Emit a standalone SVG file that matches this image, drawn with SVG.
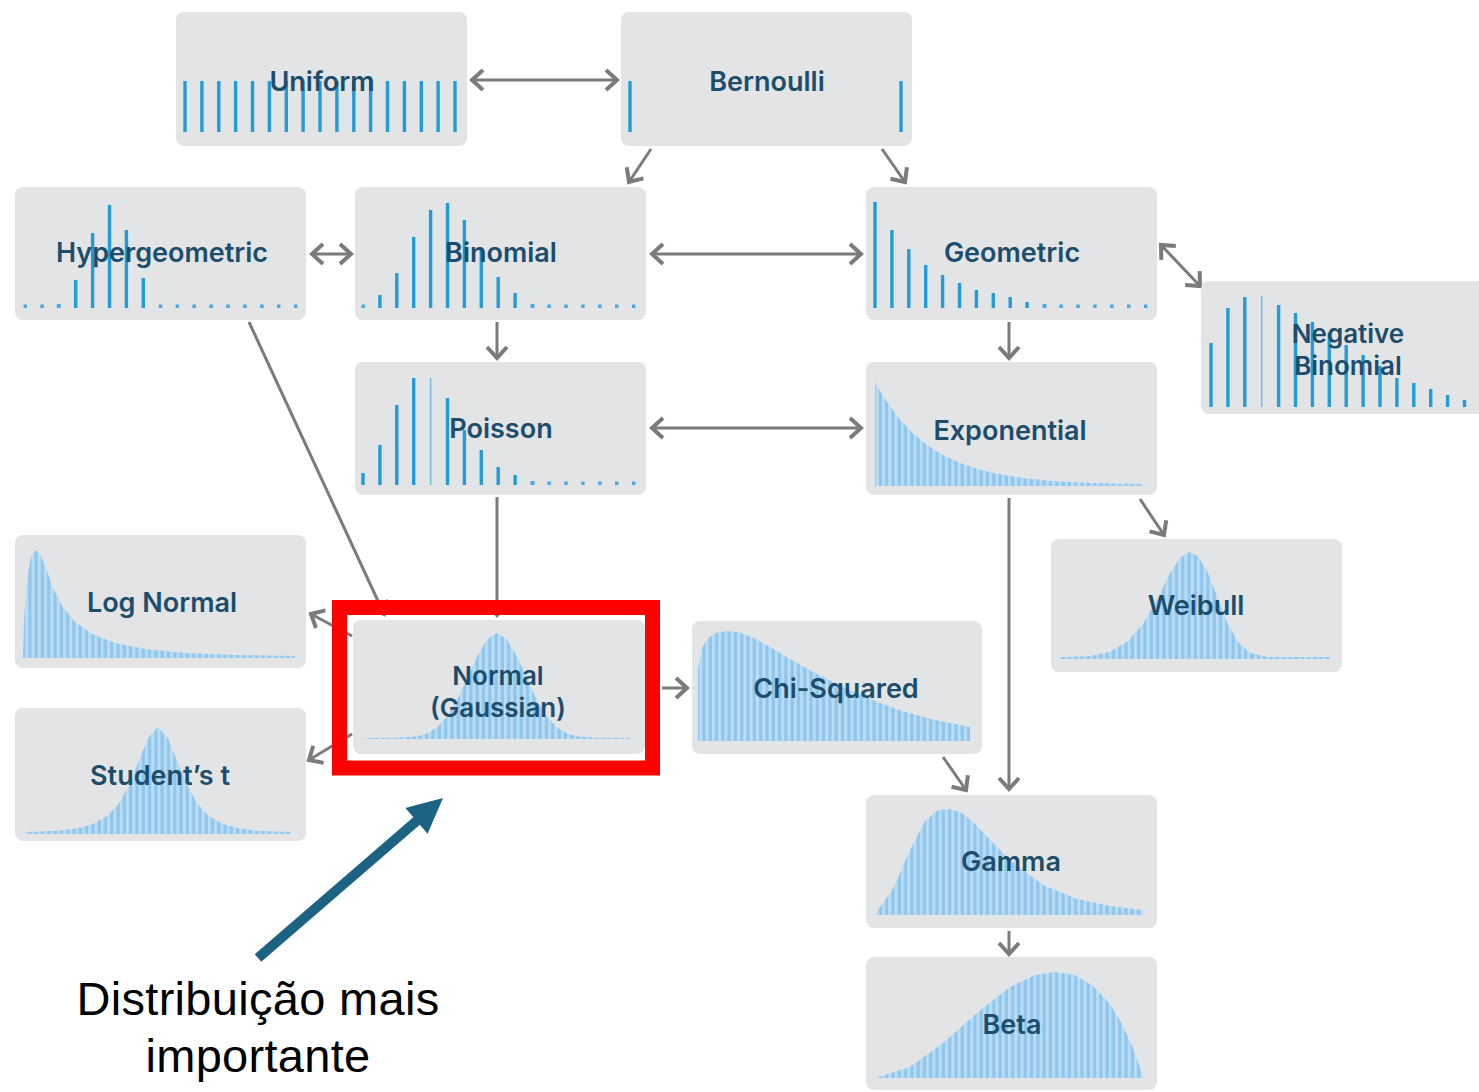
<svg xmlns="http://www.w3.org/2000/svg" width="1479" height="1092" viewBox="0 0 1479 1092">
  <defs>
    <style>
      .box { fill: #e3e4e6; }
      .bar { stroke: #229bd8; stroke-width: 3.4; }
      .thin { stroke: #72bbe5; stroke-width: 1.6; }
      .dot { fill: #4ba9de; }
      .area { fill: url(#stripes); }
      .lbl { font-family: Inter, "Liberation Sans", sans-serif; font-weight: 600; font-size: 27px; fill: #1d4d6c; text-anchor: middle; }
      .lbl2 { font-size: 26px; }
      .conn { stroke: #7b7b7b; stroke-width: 3; fill: none; }
      .one { marker-end: url(#chev); }
      .two { marker-start: url(#chev); marker-end: url(#chev); }
      .note { font-family: "Liberation Sans", Arial, sans-serif; font-size: 47px; letter-spacing: 0.3px; fill: #000; text-anchor: middle; }
    </style>
    <pattern id="stripes" patternUnits="userSpaceOnUse" width="6.3" height="8">
      <rect width="6.3" height="8" fill="#90c6ed"/>
      <rect x="0" width="3" height="8" fill="#b9ddf5"/>
    </pattern>
    <marker id="chev" viewBox="-15 -13 20 26" refX="0" refY="0" markerWidth="20" markerHeight="26" markerUnits="userSpaceOnUse" orient="auto-start-reverse">
      <path d="M-11,-10 L0,0 L-11,10" fill="none" stroke="#7b7b7b" stroke-width="4"/>
    </marker>
  </defs>

  <rect width="1479" height="1092" fill="#ffffff"/>

  <!-- connectors -->
  <g id="connectors">
    <line class="conn two" x1="472" y1="80" x2="617" y2="80"/>
    <line class="conn one" x1="651" y1="149" x2="629" y2="182"/>
    <line class="conn one" x1="882" y1="149" x2="905" y2="182"/>
    <line class="conn two" x1="312" y1="254" x2="351" y2="254"/>
    <line class="conn two" x1="652" y1="254" x2="861" y2="254"/>
    <line class="conn two" x1="1161" y1="245" x2="1200" y2="286"/>
    <line class="conn one" x1="497" y1="322" x2="497" y2="358"/>
    <line class="conn one" x1="1009" y1="322" x2="1009" y2="358"/>
    <line class="conn two" x1="652" y1="428" x2="861" y2="428"/>
    <line class="conn one" x1="249" y1="322" x2="384" y2="614"/>
    <line class="conn one" x1="497" y1="497" x2="497" y2="615"/>
    <line class="conn one" x1="352" y1="636" x2="311" y2="614"/>
    <line class="conn one" x1="352" y1="734" x2="309" y2="760"/>
    <line class="conn one" x1="662" y1="688" x2="687" y2="688"/>
    <line class="conn one" x1="1140" y1="499" x2="1164" y2="535"/>
    <line class="conn one" x1="1009" y1="498" x2="1009" y2="789"/>
    <line class="conn one" x1="943" y1="757" x2="966" y2="790"/>
    <line class="conn one" x1="1009" y1="931" x2="1009" y2="954"/>
  </g>

  <!-- Uniform -->
  <g id="uniform">
    <rect class="box" x="176" y="12" width="291" height="134" rx="8"/>
    <g class="bar">
      <line x1="185" y1="81" x2="185" y2="132"/><line x1="201.9" y1="81" x2="201.9" y2="132"/>
      <line x1="218.8" y1="81" x2="218.8" y2="132"/><line x1="235.6" y1="81" x2="235.6" y2="132"/>
      <line x1="252.5" y1="81" x2="252.5" y2="132"/><line x1="269.4" y1="81" x2="269.4" y2="132"/>
      <line x1="286.3" y1="81" x2="286.3" y2="132"/><line x1="303.1" y1="81" x2="303.1" y2="132"/>
      <line x1="320" y1="81" x2="320" y2="132"/><line x1="336.9" y1="81" x2="336.9" y2="132"/>
      <line x1="353.8" y1="81" x2="353.8" y2="132"/><line x1="370.6" y1="81" x2="370.6" y2="132"/>
      <line x1="387.5" y1="81" x2="387.5" y2="132"/><line x1="404.4" y1="81" x2="404.4" y2="132"/>
      <line x1="421.3" y1="81" x2="421.3" y2="132"/><line x1="438.1" y1="81" x2="438.1" y2="132"/>
      <line x1="455" y1="81" x2="455" y2="132"/>
    </g>
    <text class="lbl" x="322" y="91">Uniform</text>
  </g>

  <!-- Bernoulli -->
  <g id="bernoulli">
    <rect class="box" x="621" y="12" width="291" height="134" rx="8"/>
    <g class="bar">
      <line x1="630" y1="81" x2="630" y2="132"/>
      <line x1="901" y1="81" x2="901" y2="132"/>
    </g>
    <text class="lbl" x="767" y="91">Bernoulli</text>
  </g>

  <!-- Hypergeometric -->
  <g id="hypergeometric">
    <rect class="box" x="15" y="187" width="291" height="133" rx="8"/>
    <g class="dot">
      <rect x="23.5" y="304.5" width="3.5" height="3.5"/><rect x="40.4" y="304.5" width="3.5" height="3.5"/>
      <rect x="56.8" y="304" width="4" height="4"/>
      <rect x="158.7" y="304.5" width="3.5" height="3.5"/><rect x="175.6" y="304.5" width="3.5" height="3.5"/>
      <rect x="192.5" y="304.5" width="3.5" height="3.5"/><rect x="209.4" y="304.5" width="3.5" height="3.5"/>
      <rect x="226.3" y="304.5" width="3.5" height="3.5"/><rect x="243.2" y="304.5" width="3.5" height="3.5"/>
      <rect x="260.1" y="304.5" width="3.5" height="3.5"/><rect x="277" y="304.5" width="3.5" height="3.5"/>
      <rect x="293.9" y="304.5" width="3.5" height="3.5"/>
    </g>
    <g class="bar">
      <line x1="75.7" y1="280" x2="75.7" y2="308"/>
      <line x1="92.6" y1="233" x2="92.6" y2="308"/>
      <line x1="109.5" y1="205" x2="109.5" y2="308"/>
      <line x1="126.4" y1="230" x2="126.4" y2="308"/>
      <line x1="143.3" y1="278" x2="143.3" y2="308"/>
    </g>
    <text class="lbl" x="162" y="262">Hypergeometric</text>
  </g>

  <!-- Binomial -->
  <g id="binomial">
    <rect class="box" x="355" y="187" width="291" height="133" rx="8"/>
    <g class="dot">
      <rect x="361.5" y="304.5" width="3.5" height="3.5"/>
      <rect x="530.5" y="304" width="4" height="4"/><rect x="547.4" y="304.5" width="3.5" height="3.5"/>
      <rect x="564.3" y="304.5" width="3.5" height="3.5"/><rect x="581.2" y="304.5" width="3.5" height="3.5"/>
      <rect x="598.1" y="304.5" width="3.5" height="3.5"/><rect x="615" y="304.5" width="3.5" height="3.5"/>
      <rect x="631.9" y="304.5" width="3.5" height="3.5"/>
    </g>
    <g class="bar">
      <line x1="379.9" y1="295" x2="379.9" y2="308"/>
      <line x1="396.8" y1="273" x2="396.8" y2="308"/>
      <line x1="413.7" y1="237" x2="413.7" y2="308"/>
      <line x1="430.6" y1="210" x2="430.6" y2="308"/>
      <line x1="447.5" y1="203" x2="447.5" y2="308"/>
      <line x1="464.4" y1="220" x2="464.4" y2="308"/>
      <line x1="481.3" y1="250" x2="481.3" y2="308"/>
      <line x1="498.2" y1="277" x2="498.2" y2="308"/>
      <line x1="515.1" y1="293" x2="515.1" y2="308"/>
    </g>
    <text class="lbl" x="501" y="262">Binomial</text>
  </g>

  <!-- Geometric -->
  <g id="geometric">
    <rect class="box" x="866" y="187" width="291" height="133" rx="8"/>
    <g class="bar">
      <line x1="875" y1="202" x2="875" y2="308"/>
      <line x1="891.9" y1="230" x2="891.9" y2="308"/>
      <line x1="908.8" y1="249" x2="908.8" y2="308"/>
      <line x1="925.7" y1="265" x2="925.7" y2="308"/>
      <line x1="942.6" y1="275" x2="942.6" y2="308"/>
      <line x1="959.5" y1="283" x2="959.5" y2="308"/>
      <line x1="976.4" y1="290" x2="976.4" y2="308"/>
      <line x1="993.3" y1="293" x2="993.3" y2="308"/>
      <line x1="1010.2" y1="297" x2="1010.2" y2="308"/>
      <line x1="1027.1" y1="302" x2="1027.1" y2="308"/>
    </g>
    <g class="dot">
      <rect x="1042.5" y="304" width="4" height="4"/><rect x="1059.4" y="304.5" width="3.5" height="3.5"/>
      <rect x="1076.3" y="304.5" width="3.5" height="3.5"/><rect x="1093.2" y="304.5" width="3.5" height="3.5"/>
      <rect x="1110.1" y="304.5" width="3.5" height="3.5"/><rect x="1127" y="304.5" width="3.5" height="3.5"/>
      <rect x="1143.9" y="304.5" width="3.5" height="3.5"/>
    </g>
    <text class="lbl" x="1012" y="262">Geometric</text>
  </g>

  <!-- Negative Binomial -->
  <g id="negative-binomial">
    <rect class="box" x="1201" y="281" width="300" height="133" rx="8"/>
    <g class="bar">
      <line x1="1211" y1="343" x2="1211" y2="407"/>
      <line x1="1227.9" y1="308" x2="1227.9" y2="407"/>
      <line x1="1244.8" y1="297" x2="1244.8" y2="407"/>
      <line x1="1278.6" y1="305" x2="1278.6" y2="407"/>
      <line x1="1295.5" y1="313" x2="1295.5" y2="407"/>
      <line x1="1312.4" y1="322" x2="1312.4" y2="407"/>
      <line x1="1329.3" y1="333" x2="1329.3" y2="407"/>
      <line x1="1346.2" y1="345" x2="1346.2" y2="407"/>
      <line x1="1363.1" y1="355" x2="1363.1" y2="407"/>
      <line x1="1380" y1="366" x2="1380" y2="407"/>
      <line x1="1396.9" y1="378" x2="1396.9" y2="407"/>
      <line x1="1413.8" y1="383" x2="1413.8" y2="407"/>
      <line x1="1430.7" y1="389" x2="1430.7" y2="407"/>
      <line x1="1447.6" y1="395" x2="1447.6" y2="407"/>
      <line x1="1464.5" y1="400" x2="1464.5" y2="407"/>
    </g>
    <line class="thin" x1="1261.7" y1="296" x2="1261.7" y2="407"/>
    <text class="lbl lbl2" x="1348" y="343">Negative</text>
    <text class="lbl lbl2" x="1348" y="375">Binomial</text>
  </g>

  <!-- Poisson -->
  <g id="poisson">
    <rect class="box" x="355" y="362" width="291" height="133" rx="8"/>
    <g class="bar">
      <line x1="363" y1="473" x2="363" y2="485"/>
      <line x1="379.9" y1="445" x2="379.9" y2="485"/>
      <line x1="396.8" y1="405" x2="396.8" y2="485"/>
      <line x1="413.7" y1="378" x2="413.7" y2="485"/>
      <line x1="447.5" y1="398" x2="447.5" y2="485"/>
      <line x1="464.4" y1="430" x2="464.4" y2="485"/>
      <line x1="481.3" y1="450" x2="481.3" y2="485"/>
      <line x1="498.2" y1="467" x2="498.2" y2="485"/>
      <line x1="515.1" y1="475" x2="515.1" y2="485"/>
    </g>
    <line class="thin" x1="430.6" y1="378" x2="430.6" y2="485"/>
    <g class="dot">
      <rect x="530.5" y="481" width="4" height="4"/><rect x="547.4" y="481.5" width="3.5" height="3.5"/>
      <rect x="564.3" y="481.5" width="3.5" height="3.5"/><rect x="581.2" y="481.5" width="3.5" height="3.5"/>
      <rect x="598.1" y="481.5" width="3.5" height="3.5"/><rect x="615" y="481.5" width="3.5" height="3.5"/>
      <rect x="631.9" y="481.5" width="3.5" height="3.5"/>
    </g>
    <text class="lbl" x="501" y="438">Poisson</text>
  </g>

  <!-- Exponential -->
  <g id="exponential">
    <rect class="box" x="866" y="362" width="291" height="133" rx="8"/>
    <path class="area" d="M875,486 L875,382 L880,391 L890,406.6 L900,419.6 L912,432.5 L925,443.5 L940,453.4 L960,463 L980,469.7 L1000,474.3 L1025,478.3 L1050,480.7 L1080,482.5 L1110,483.6 L1143,484 L1143,486 Z"/>
    <text class="lbl" x="1010" y="440">Exponential</text>
  </g>

  <!-- Log Normal -->
  <g id="log-normal">
    <rect class="box" x="15" y="535" width="291" height="133" rx="8"/>
    <path class="area" d="M23,658 L24,620 L27,580 L31,557 L35,550 L40,554 L46,568 L53,588 L62,606 L75,622 L92,634 L115,643 L145,649 L185,653 L235,655 L295,656 L295,658 Z"/>
    <text class="lbl" x="162" y="612">Log Normal</text>
  </g>

  <!-- Normal (Gaussian) -->
  <g id="normal">
    <rect class="box" x="353" y="620" width="292" height="134" rx="8"/>
    <path class="area" d="M365,739 L365,738 L397,737.7 L417,736.2 L427,733.4 L437,727.4 L447,716.7 L457,700.2 L467,678.9 L477,656.6 L487,639.5 L497,633 L507,639.5 L517,656.6 L527,678.9 L537,700.2 L547,716.7 L557,727.4 L567,733.4 L577,736.2 L597,737.7 L630,738 L630,739 Z"/>
    <text class="lbl lbl2" x="498" y="685">Normal</text>
    <text class="lbl lbl2" x="498" y="717">(Gaussian)</text>
  </g>

  <!-- Student's t -->
  <g id="students-t">
    <rect class="box" x="15" y="708" width="291" height="133" rx="8"/>
    <path class="area" d="M25,834 L25,832 L58,830.7 L78,828.2 L93,824.1 L108,815.3 L118,804.4 L128,787.2 L138,763 L148,738.3 L158,727 L168,738.3 L178,763 L188,787.2 L198,804.4 L208,815.3 L223,824.1 L238,828.2 L258,830.7 L291,832 L291,834 Z"/>
    <text class="lbl" x="160" y="785">Student’s t</text>
  </g>

  <!-- Chi-Squared -->
  <g id="chi-squared">
    <rect class="box" x="692" y="621" width="290" height="133" rx="8"/>
    <path class="area" d="M698,741 L698,668 L702,648 L708,638 L716,633 L726,631 L738,632 L752,637 L770,647 L790,659 L815,673 L845,688 L875,701 L905,712 L935,720 L970,727 L970,741 Z"/>
    <text class="lbl" x="836" y="698">Chi-Squared</text>
  </g>

  <!-- Weibull -->
  <g id="weibull">
    <rect class="box" x="1051" y="539" width="291" height="133" rx="8"/>
    <path class="area" d="M1060,659 L1060,657 L1090,656 L1110,652 L1128,641 L1143,624 L1157,600 L1169,575 L1180,558 L1189,552 L1198,556 L1207,571 L1217,596 L1227,622 L1238,642 L1250,653 L1268,657 L1330,657 L1330,659 Z"/>
    <text class="lbl" x="1196" y="615">Weibull</text>
  </g>

  <!-- Gamma -->
  <g id="gamma">
    <rect class="box" x="866" y="795" width="291" height="133" rx="8"/>
    <path class="area" d="M875,915 L878,910 L893,889 L910,850 L925,821 L938,810 L950,809 L962,813 L975,824 L990,840 L1010,860 L1043,885 L1077,899 L1110,906 L1143,910 L1143,915 Z"/>
    <text class="lbl" x="1011" y="871">Gamma</text>
  </g>

  <!-- Beta -->
  <g id="beta">
    <rect class="box" x="866" y="957" width="291" height="133" rx="8"/>
    <path class="area" d="M875,1078 L878,1077 L910,1067 L943,1043 L977,1013 L1010,987 L1035,975 L1055,972 L1075,975 L1093,986 L1110,1004 L1122,1024 L1133,1048 L1143,1076 L1143,1078 Z"/>
    <text class="lbl" x="1012" y="1034">Beta</text>
  </g>

  <!-- highlight frame -->
  <rect id="highlight" x="339.5" y="607.5" width="313" height="160.5" fill="none" stroke="#ff0000" stroke-width="15"/>

  <!-- annotation -->
  <g id="annotation">
    <line x1="258" y1="958" x2="420" y2="818" stroke="#1c6283" stroke-width="10"/>
    <polygon points="443,798 405.4,808 427.6,833.8" fill="#1c6283"/>
    <text class="note" x="258" y="1015">Distribuição mais</text>
    <text class="note" x="258" y="1072">importante</text>
  </g>
</svg>
